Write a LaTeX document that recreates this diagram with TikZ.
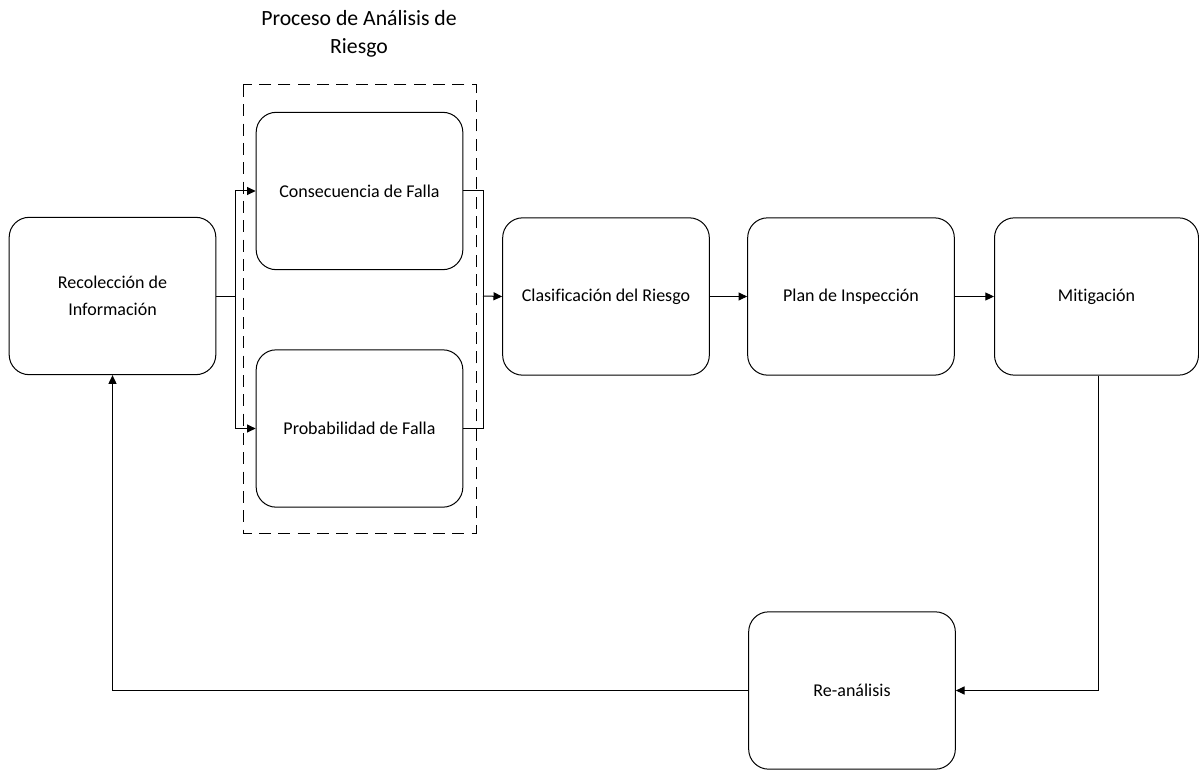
\documentclass[tikz,border=0pt]{standalone}
\usepackage{fontspec}
\setmainfont[Ligatures=NoCommon]{Carlito}
\usetikzlibrary{arrows.meta}

\begin{document}
\begin{tikzpicture}[x=0.75pt,y=0.75pt,yscale=-1,xscale=1,
    paso/.style={draw,line width=0.75,rounded corners=15pt,minimum width=155pt,minimum height=118pt,align=center,inner sep=0.75pt,font=\fontsize{13.5}{20}\selectfont},
    flecha/.style={line width=0.75,-{Triangle[length=6.5pt,width=6pt]}},
    linea/.style={line width=0.75}]
        \useasboundingbox (0,0) rectangle (1199,770);

        % Dashed group
        \draw [line width=0.75,dash pattern=on 9pt off 5.5pt] (243,85) rectangle (476,533);
        % Text Node
        \node [align=center,inner sep=0.75pt,font=\fontsize{16.3}{21}\selectfont] (titulo) at (359,34) {Proceso de Análisis de\\Riesgo};

        % Boxes
        \node [paso] (recoleccion) at (112.5,296) {Recolección de\\Información};
        \node [paso] (consecuencia) at (359.5,191) {Consecuencia de Falla};
        \node [paso] (probabilidad) at (359.5,428.5) {Probabilidad de Falla};
        \node [paso] (clasificacion) at (606,296.5) {Clasificación del Riesgo};
        \node [paso] (plan) at (851,296.5) {Plan de Inspección};
        \node [paso,minimum width=153pt] (mitigacion) at (1096.5,296.5) {Mitigación};
        \node [paso] (reanalisis) at (852,690.5) {Re-análisis};

        % Junctions
        \coordinate (bifurca) at (235,296);
        \coordinate (une) at (483,296);

        %Straight Lines
        \draw [linea] (recoleccion.east) -- (bifurca);
        \draw [flecha] (bifurca) |- (consecuencia.west);
        \draw [flecha] (bifurca) |- (probabilidad.west);
        \draw [linea] (consecuencia.east) -| (une);
        \draw [linea] (probabilidad.east) -| (une);
        \draw [flecha] (une) -- (clasificacion.west);
        \draw [flecha] (clasificacion) -- (plan);
        \draw [flecha] (plan) -- (mitigacion);
        \draw [flecha] ([xshift=1.5]mitigacion.south) |- (reanalisis.east);
        \draw [flecha] (reanalisis.west) -| (recoleccion.south);

\end{tikzpicture}
\end{document}
